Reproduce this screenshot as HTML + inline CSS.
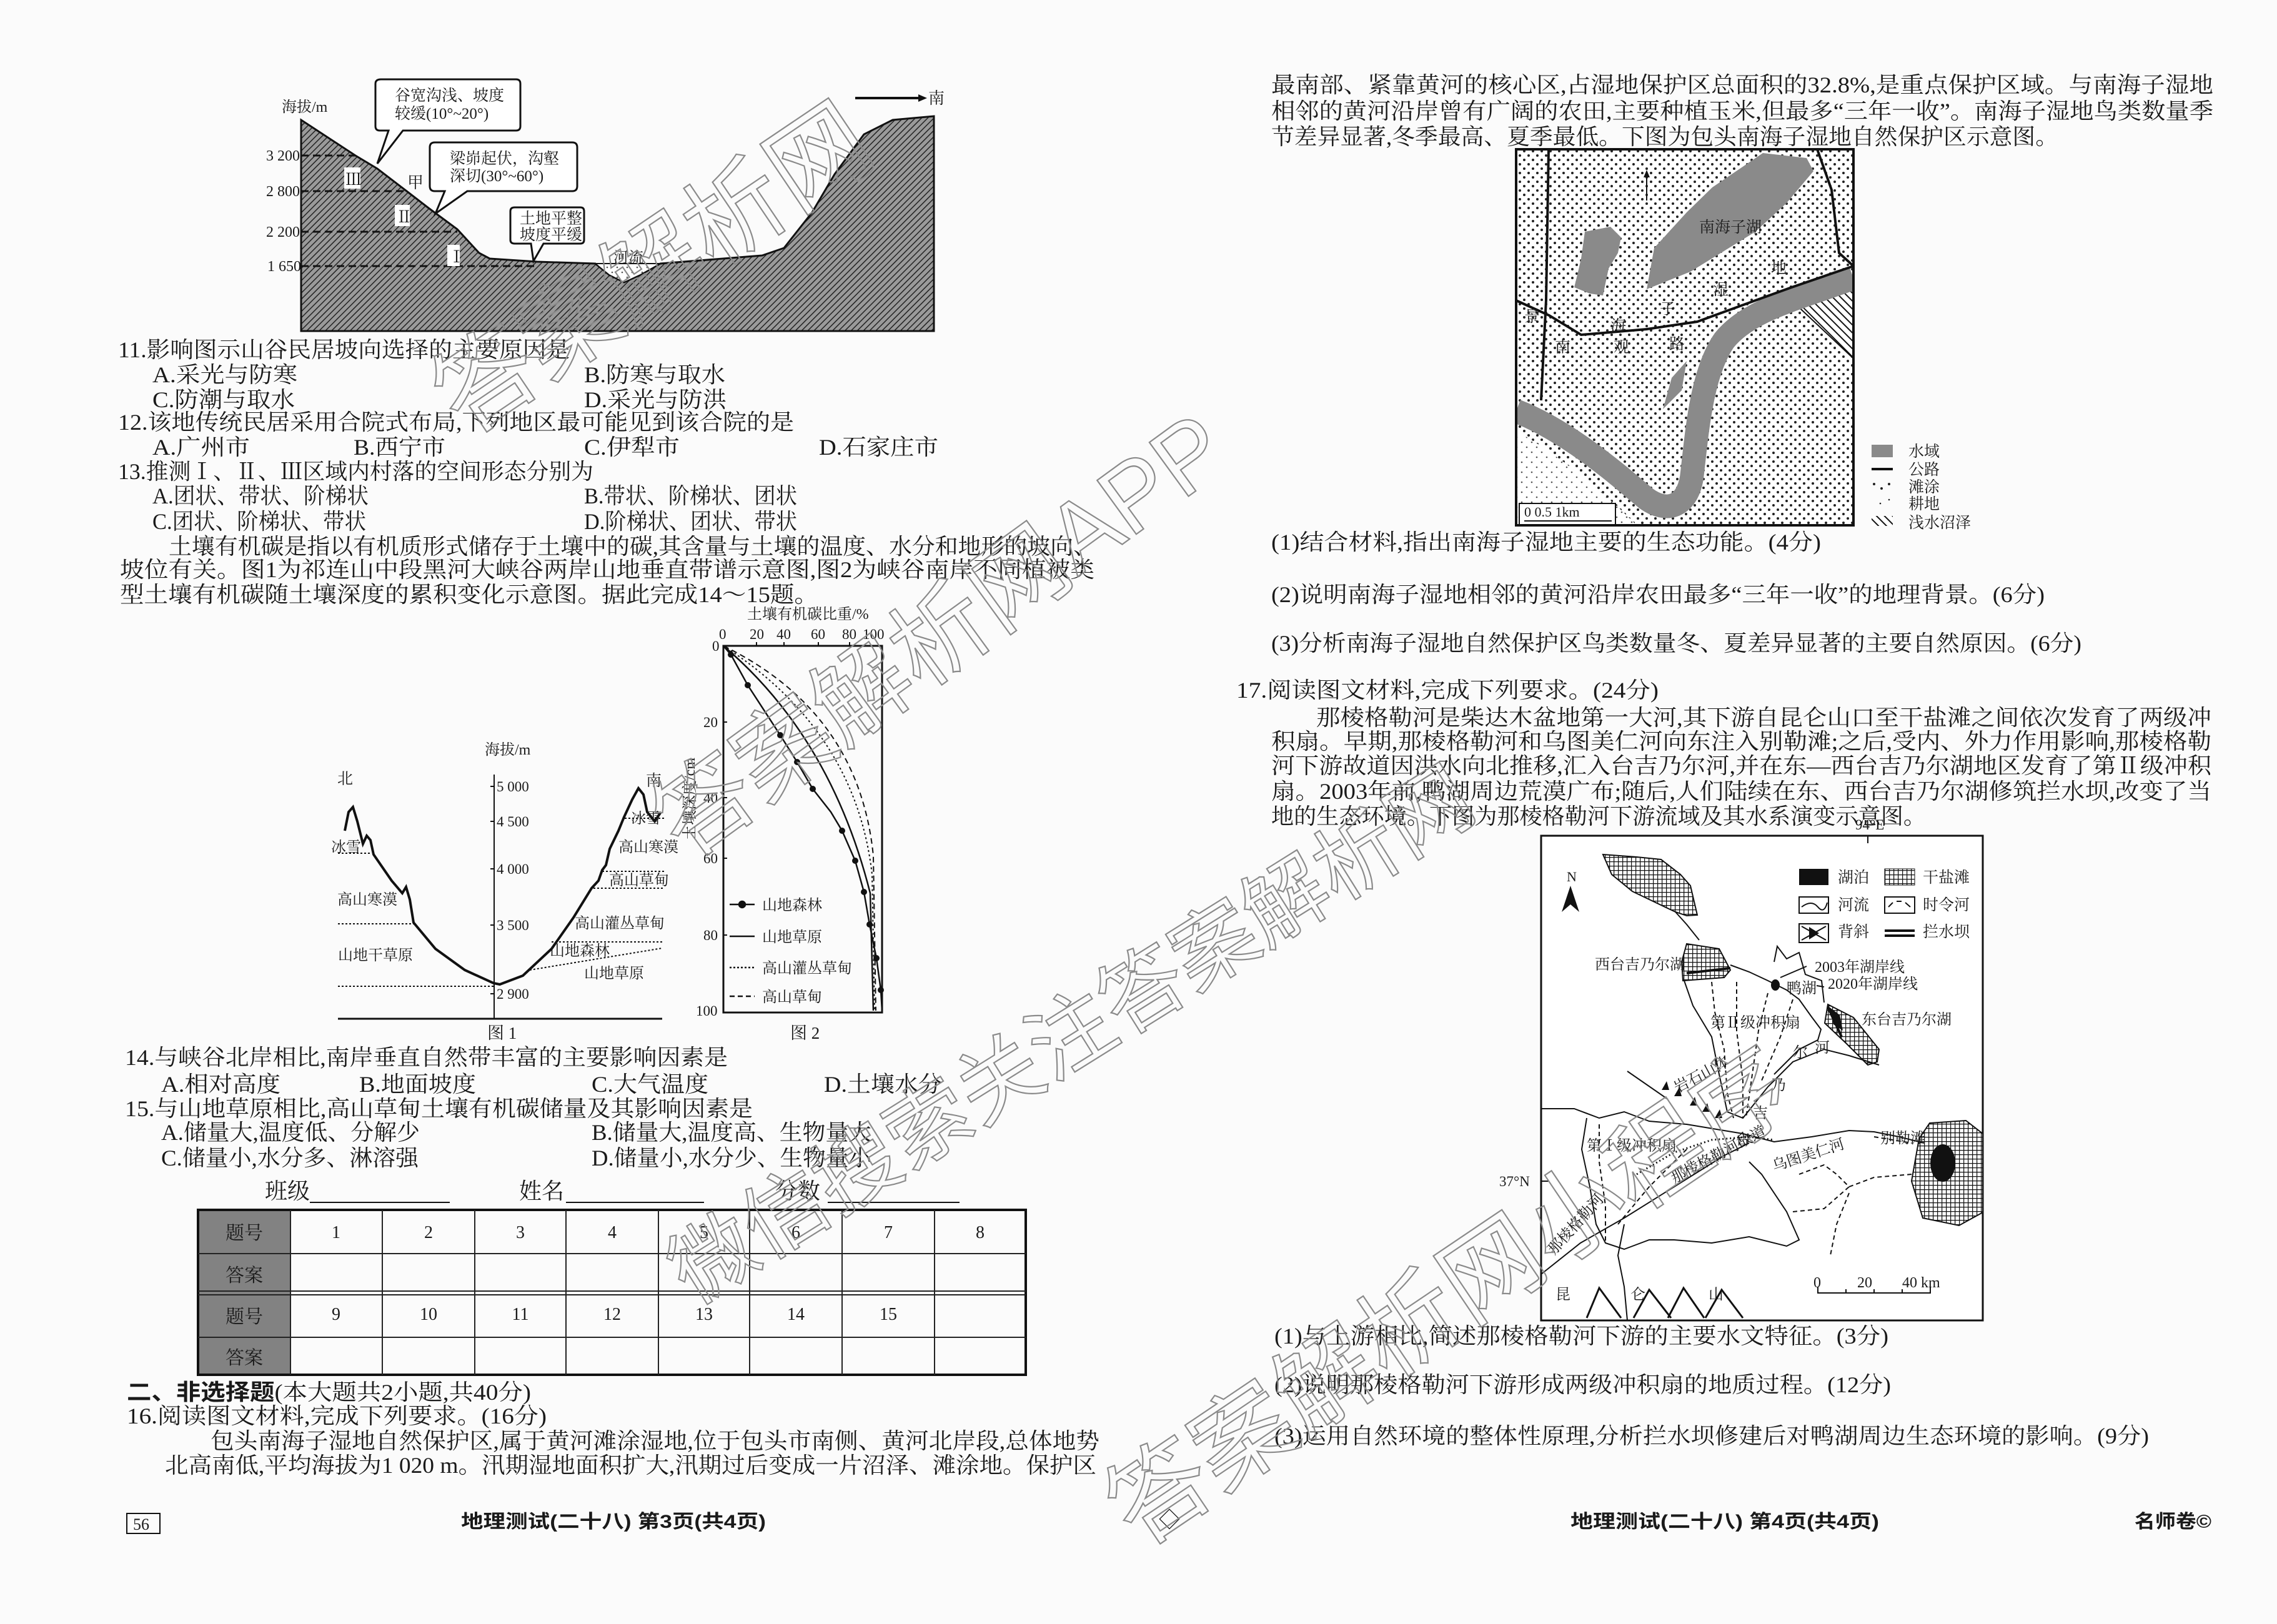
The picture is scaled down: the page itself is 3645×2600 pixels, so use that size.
<!DOCTYPE html>
<html><head><meta charset="utf-8"><style>
html,body{margin:0;padding:0;background:#fbfbfb;}
svg{display:block}
text{font-family:"Liberation Serif","Noto Serif CJK SC",serif;fill:#1a1a1a;}
.b{font-family:"Liberation Sans","Noto Sans CJK SC",sans-serif;font-weight:bold;}
.wm{font-family:"Liberation Sans","Noto Sans CJK SC",sans-serif;fill:none;stroke:#8a8a8a;stroke-width:2.2;}
</style></head><body>
<svg width="3645" height="2600" viewBox="0 0 3645 2600" xmlns="http://www.w3.org/2000/svg">
<defs>
<pattern id="hatch" width="7" height="7" patternUnits="userSpaceOnUse" patternTransform="rotate(45)"><rect width="7" height="7" fill="#9a9a9a"/><line x1="0" y1="0" x2="0" y2="7" stroke="#222" stroke-width="3"/></pattern>
<pattern id="dots" width="14" height="14" patternUnits="userSpaceOnUse"><rect width="14" height="14" fill="#fff"/><circle cx="4" cy="4" r="2" fill="#222"/><circle cx="11" cy="11" r="2" fill="#222"/></pattern>
<pattern id="fdots" width="16" height="16" patternUnits="userSpaceOnUse"><rect width="16" height="16" fill="#fff"/><circle cx="4" cy="4" r="1.3" fill="#555"/><circle cx="12" cy="12" r="1.3" fill="#555"/></pattern>
<pattern id="grid" width="7" height="7" patternUnits="userSpaceOnUse"><rect width="7" height="7" fill="#fff"/><path d="M0 0H7M0 0V7" stroke="#111" stroke-width="2.5"/></pattern>
<pattern id="diag" width="9" height="9" patternUnits="userSpaceOnUse" patternTransform="rotate(-45)"><rect width="9" height="9" fill="#fff"/><line x1="0" y1="0" x2="0" y2="9" stroke="#111" stroke-width="4"/></pattern>
<clipPath id="wclip"><rect x="2427" y="239" width="540" height="602"/></clipPath>
</defs>

<!-- ============ LEFT PAGE ============ -->
<text x="451" y="179" font-size="24">海拔/m</text>
<path d="M482,192 L511,211 L569,249 L604,270 L651,306 L686,333 L732,367 L767,405 L784,414 L860,419 L953,422 L975,440 L999,452 L1025,440 L1057,422 L1220,409 L1255,397 L1300,340 L1336,279 L1383,215 L1429,192 L1495,186 L1495,530 L482,530 Z" fill="url(#hatch)" stroke="#111" stroke-width="3"/>
<path d="M953,422 L975,440 L999,452 L1025,440 L1057,422 Z" fill="url(#fdots)" stroke="#111" stroke-width="2"/>
<g stroke="#111" stroke-width="3" stroke-dasharray="12,7">
<line x1="482" y1="249" x2="569" y2="249"/><line x1="482" y1="306" x2="651" y2="306"/><line x1="482" y1="371" x2="732" y2="371"/><line x1="482" y1="426" x2="860" y2="426"/></g>
<g font-size="24"><text x="426" y="257">3 200</text><text x="426" y="314">2 800</text><text x="426" y="379">2 200</text><text x="428" y="434">1 650</text></g>
<rect x="551" y="268" width="26" height="34" fill="#fff"/><text x="553" y="296" font-size="26">Ⅲ</text>
<rect x="632" y="328" width="24" height="34" fill="#fff"/><text x="634" y="356" font-size="26">Ⅱ</text>
<rect x="716" y="392" width="20" height="34" fill="#fff"/><text x="718" y="420" font-size="26">Ⅰ</text>
<text x="652" y="301" font-size="26">甲</text>
<text x="982" y="420" font-size="24">河流</text>
<path d="M610,127 H826 Q833,127 833,134 V202 Q833,209 826,209 H645 L604,262 L622,209 H608 Q601,209 601,202 V134 Q601,127 610,127 Z" fill="#fff" stroke="#111" stroke-width="3"/>
<text x="632" y="161" font-size="25">谷宽沟浅、坡度</text><text x="632" y="190" font-size="25">较缓(10°~20°)</text>
<path d="M696,228 H916 Q924,228 924,236 V298 Q924,306 916,306 H748 L697,342 L712,306 H696 Q688,306 688,298 V236 Q688,228 696,228 Z" fill="#fff" stroke="#111" stroke-width="3"/>
<text x="720" y="262" font-size="25">梁峁起伏，沟壑</text><text x="720" y="290" font-size="25">深切(30°~60°)</text>
<path d="M824,332 H929 Q935,332 935,338 V384 Q935,390 929,390 H870 L854,418 L850,390 H824 Q817,390 817,384 V338 Q817,332 824,332 Z" fill="#fff" stroke="#111" stroke-width="3"/>
<text x="832" y="358" font-size="25">土地平整</text><text x="832" y="384" font-size="25">坡度平缓</text>
<line x1="1369" y1="157" x2="1470" y2="157" stroke="#111" stroke-width="4"/><path d="M1470,151 L1484,157 L1470,163 Z" fill="#111"/>
<text x="1486" y="166" font-size="26">南</text>

<g font-size="36">
<text x="189" y="572" textLength="723" lengthAdjust="spacingAndGlyphs">11.影响图示山谷民居坡向选择的主要原因是</text>
<text x="244" y="612" textLength="232" lengthAdjust="spacingAndGlyphs">A.采光与防寒</text>
<text x="935" y="612" textLength="226" lengthAdjust="spacingAndGlyphs">B.防寒与取水</text>
<text x="244" y="652" textLength="228" lengthAdjust="spacingAndGlyphs">C.防潮与取水</text>
<text x="935" y="652" textLength="228" lengthAdjust="spacingAndGlyphs">D.采光与防洪</text>
<text x="189" y="688" textLength="1082" lengthAdjust="spacingAndGlyphs">12.该地传统民居采用合院式布局,下列地区最可能见到该合院的是</text>
<text x="244" y="728" textLength="156" lengthAdjust="spacingAndGlyphs">A.广州市</text>
<text x="566" y="728" textLength="147" lengthAdjust="spacingAndGlyphs">B.西宁市</text>
<text x="935" y="728" textLength="153" lengthAdjust="spacingAndGlyphs">C.伊犁市</text>
<text x="1311" y="728" textLength="191" lengthAdjust="spacingAndGlyphs">D.石家庄市</text>
<text x="189" y="767" textLength="761" lengthAdjust="spacingAndGlyphs">13.推测Ⅰ、Ⅱ、Ⅲ区域内村落的空间形态分别为</text>
<text x="244" y="806" textLength="346" lengthAdjust="spacingAndGlyphs">A.团状、带状、阶梯状</text>
<text x="935" y="806" textLength="341" lengthAdjust="spacingAndGlyphs">B.带状、阶梯状、团状</text>
<text x="244" y="847" textLength="342" lengthAdjust="spacingAndGlyphs">C.团状、阶梯状、带状</text>
<text x="935" y="847" textLength="341" lengthAdjust="spacingAndGlyphs">D.阶梯状、团状、带状</text>
<text x="270" y="887" textLength="1485" lengthAdjust="spacingAndGlyphs">土壤有机碳是指以有机质形式储存于土壤中的碳,其含量与土壤的温度、水分和地形的坡向、</text>
<text x="192" y="924" textLength="1560" lengthAdjust="spacingAndGlyphs">坡位有关。图1为祁连山中段黑河大峡谷两岸山地垂直带谱示意图,图2为峡谷南岸不同植被类</text>
<text x="192" y="964" textLength="1118" lengthAdjust="spacingAndGlyphs">型土壤有机碳随土壤深度的累积变化示意图。据此完成14～15题。</text>
</g>

<!-- Fig 2 -->
<text x="1196" y="991" font-size="24">土壤有机碳比重/%</text>
<g font-size="23"><text x="1151" y="1023">0</text><text x="1200" y="1023">20</text><text x="1243" y="1023">40</text><text x="1298" y="1023">60</text><text x="1348" y="1023">80</text><text x="1381" y="1023">100</text>
<text x="1140" y="1042">0</text><text x="1126" y="1164">20</text><text x="1126" y="1285">40</text><text x="1126" y="1382">60</text><text x="1126" y="1505">80</text><text x="1114" y="1626">100</text></g>
<text x="1112" y="1345" font-size="24" transform="rotate(-90 1112 1345)">土壤深度/cm</text>
<rect x="1158" y="1034" width="254" height="587" fill="none" stroke="#111" stroke-width="3"/>
<g stroke="#111" stroke-width="2"><line x1="1211" y1="1034" x2="1211" y2="1028"/><line x1="1255" y1="1034" x2="1255" y2="1028"/><line x1="1310" y1="1034" x2="1310" y2="1028"/><line x1="1360" y1="1034" x2="1360" y2="1028"/><line x1="1158" y1="1156" x2="1164" y2="1156"/><line x1="1158" y1="1277" x2="1164" y2="1277"/><line x1="1158" y1="1374" x2="1164" y2="1374"/><line x1="1158" y1="1497" x2="1164" y2="1497"/></g>
<path d="M1158,1034 Q1370,1170 1396,1400 L1400,1618" fill="none" stroke="#111" stroke-width="2" stroke-dasharray="3,4"/>
<path d="M1158,1034 Q1375,1140 1398,1370 L1402,1618" fill="none" stroke="#111" stroke-width="2" stroke-dasharray="9,6"/>
<path d="M1158,1034 Q1330,1180 1393,1430 L1398,1618" fill="none" stroke="#111" stroke-width="2.5"/>
<polyline points="1158,1034 1170,1048 1197,1097 1249,1177 1276,1220 1301,1263 1330,1300 1348,1330 1369,1378 1383,1428 1392,1480 1403,1534 1410,1585 1412,1618" fill="none" stroke="#111" stroke-width="2.5"/>
<g fill="#111"><circle cx="1170" cy="1048" r="5"/><circle cx="1197" cy="1097" r="5"/><circle cx="1249" cy="1177" r="5"/><circle cx="1276" cy="1220" r="5"/><circle cx="1301" cy="1263" r="5"/><circle cx="1348" cy="1330" r="5"/><circle cx="1369" cy="1378" r="5"/><circle cx="1383" cy="1428" r="5"/><circle cx="1392" cy="1480" r="5"/><circle cx="1403" cy="1534" r="5"/><circle cx="1410" cy="1585" r="5"/></g>
<g stroke="#111" stroke-width="2.5"><line x1="1168" y1="1448" x2="1208" y2="1448"/><circle cx="1188" cy="1448" r="5" fill="#111"/><line x1="1168" y1="1499" x2="1208" y2="1499"/><line x1="1168" y1="1549" x2="1208" y2="1549" stroke-dasharray="3,3"/><line x1="1168" y1="1595" x2="1208" y2="1595" stroke-dasharray="8,5"/></g>
<g font-size="24"><text x="1220" y="1457">山地森林</text><text x="1220" y="1508">山地草原</text><text x="1220" y="1558">高山灌丛草甸</text><text x="1220" y="1604">高山草甸</text></g>
<text x="1265" y="1663" font-size="27">图 2</text>

<!-- Fig 1 -->
<text x="776" y="1208" font-size="24">海拔/m</text>
<text x="540" y="1255" font-size="25">北</text><text x="1034" y="1258" font-size="25">南</text>
<line x1="791" y1="1240" x2="791" y2="1631" stroke="#111" stroke-width="2"/>
<g font-size="23"><text x="795" y="1267">5 000</text><text x="795" y="1323">4 500</text><text x="795" y="1399">4 000</text><text x="795" y="1489">3 500</text><text x="795" y="1599">2 900</text></g>
<g stroke="#111" stroke-width="2"><line x1="785" y1="1259" x2="791" y2="1259"/><line x1="785" y1="1315" x2="791" y2="1315"/><line x1="785" y1="1391" x2="791" y2="1391"/><line x1="785" y1="1481" x2="791" y2="1481"/><line x1="785" y1="1591" x2="791" y2="1591"/></g>
<line x1="541" y1="1631" x2="1060" y2="1631" stroke="#111" stroke-width="3"/>
<path d="M552,1330 L558,1300 L565,1292 L572,1315 L581,1351 L587,1338 L593,1345 L598,1368 L627,1410 L644,1430 L650,1420 L656,1440 L662,1477 L697,1519 L744,1553 L790,1574 L800,1576 L837,1562 L883,1519 L918,1469 L947,1422 L958,1410 L964,1393 L970,1385 L976,1359 L990,1330 L999,1308 L1012,1280 L1022,1262 L1030,1272 L1036,1300 L1048,1315 L1058,1300" fill="none" stroke="#111" stroke-width="4"/>
<g stroke="#111" stroke-width="2" stroke-dasharray="3,3">
<line x1="541" y1="1366" x2="593" y2="1366"/><line x1="541" y1="1479" x2="662" y2="1479"/><line x1="541" y1="1579" x2="790" y2="1579"/>
<line x1="964" y1="1395" x2="1063" y2="1395"/><line x1="950" y1="1422" x2="1063" y2="1422"/><line x1="883" y1="1508" x2="1060" y2="1508"/><line x1="848" y1="1553" x2="1060" y2="1518"/>
<line x1="1000" y1="1310" x2="1063" y2="1310"/></g>
<g font-size="24"><text x="530" y="1364">冰雪</text><text x="540" y="1448">高山寒漠</text><text x="541" y="1537">山地干草原</text>
<text x="1010" y="1318">冰雪</text><text x="990" y="1364">高山寒漠</text><text x="975" y="1417">高山草甸</text><text x="920" y="1486">高山灌丛草甸</text><text x="880" y="1530">山地森林</text><text x="935" y="1566">山地草原</text></g>
<text x="780" y="1663" font-size="27">图 1</text>

<g font-size="36">
<text x="200" y="1705" textLength="965" lengthAdjust="spacingAndGlyphs">14.与峡谷北岸相比,南岸垂直自然带丰富的主要影响因素是</text>
<text x="258" y="1748" textLength="191" lengthAdjust="spacingAndGlyphs">A.相对高度</text>
<text x="575" y="1748" textLength="187" lengthAdjust="spacingAndGlyphs">B.地面坡度</text>
<text x="947" y="1748" textLength="187" lengthAdjust="spacingAndGlyphs">C.大气温度</text>
<text x="1319" y="1748" textLength="189" lengthAdjust="spacingAndGlyphs">D.土壤水分</text>
<text x="200" y="1787" textLength="1005" lengthAdjust="spacingAndGlyphs">15.与山地草原相比,高山草甸土壤有机碳储量及其影响因素是</text>
<text x="258" y="1825" textLength="414" lengthAdjust="spacingAndGlyphs">A.储量大,温度低、分解少</text>
<text x="947" y="1825" textLength="448" lengthAdjust="spacingAndGlyphs">B.储量大,温度高、生物量大</text>
<text x="258" y="1866" textLength="412" lengthAdjust="spacingAndGlyphs">C.储量小,水分多、淋溶强</text>
<text x="947" y="1866" textLength="448" lengthAdjust="spacingAndGlyphs">D.储量小,水分少、生物量小</text>
<text x="424" y="1919">班级</text><text x="831" y="1919">姓名</text><text x="1241" y="1919">分数</text>
</g>
<g stroke="#111" stroke-width="2"><line x1="496" y1="1925" x2="720" y2="1925"/><line x1="906" y1="1925" x2="1127" y2="1925"/><line x1="1325" y1="1925" x2="1536" y2="1925"/></g>

<!-- table -->
<rect x="317" y="1937" width="148" height="264" fill="#828282"/>
<rect x="317" y="1937" width="1325" height="264" fill="none" stroke="#111" stroke-width="4"/>
<g stroke="#222" stroke-width="2">
<line x1="317" y1="2007" x2="1642" y2="2007"/><line x1="317" y1="2067" x2="1642" y2="2067"/><line x1="317" y1="2073" x2="1642" y2="2073"/><line x1="317" y1="2141" x2="1642" y2="2141"/>
<line x1="465" y1="1937" x2="465" y2="2201"/><line x1="612" y1="1937" x2="612" y2="2201"/><line x1="760" y1="1937" x2="760" y2="2201"/><line x1="906" y1="1937" x2="906" y2="2201"/><line x1="1054" y1="1937" x2="1054" y2="2201"/><line x1="1200" y1="1937" x2="1200" y2="2201"/><line x1="1348" y1="1937" x2="1348" y2="2201"/><line x1="1496" y1="1937" x2="1496" y2="2201"/></g>
<g font-size="30"><text x="361" y="1984">题号</text><text x="361" y="2052">答案</text><text x="361" y="2118">题号</text><text x="361" y="2184">答案</text></g>
<g font-size="28" text-anchor="middle"><text x="538" y="1982">1</text><text x="686" y="1982">2</text><text x="833" y="1982">3</text><text x="980" y="1982">4</text><text x="1127" y="1982">5</text><text x="1274" y="1982">6</text><text x="1422" y="1982">7</text><text x="1569" y="1982">8</text>
<text x="538" y="2113">9</text><text x="686" y="2113">10</text><text x="833" y="2113">11</text><text x="980" y="2113">12</text><text x="1127" y="2113">13</text><text x="1274" y="2113">14</text><text x="1422" y="2113">15</text></g>

<g font-size="36">
<text x="203" y="2241" textLength="647" lengthAdjust="spacingAndGlyphs"><tspan class="b">二、非选择题</tspan>(本大题共2小题,共40分)</text>
<text x="203" y="2279" textLength="672" lengthAdjust="spacingAndGlyphs">16.阅读图文材料,完成下列要求。(16分)</text>
<text x="337" y="2319" textLength="1423" lengthAdjust="spacingAndGlyphs">包头南海子湿地自然保护区,属于黄河滩涂湿地,位于包头市南侧、黄河北岸段,总体地势</text>
<text x="264" y="2358" textLength="1491" lengthAdjust="spacingAndGlyphs">北高南低,平均海拔为1 020 m。汛期湿地面积扩大,汛期过后变成一片沼泽、滩涂地。保护区</text>
</g>
<rect x="203" y="2423" width="53" height="32" fill="none" stroke="#111" stroke-width="2"/>
<text x="213" y="2449" font-size="26">56</text>
<text class="b" x="738" y="2446" font-size="30" textLength="488" lengthAdjust="spacingAndGlyphs">地理测试(二十八)  第3页(共4页)</text>

<!-- ============ RIGHT PAGE ============ -->
<g font-size="36">
<text x="2035" y="148" textLength="1508" lengthAdjust="spacingAndGlyphs">最南部、紧靠黄河的核心区,占湿地保护区总面积的32.8%,是重点保护区域。与南海子湿地</text>
<text x="2035" y="190" textLength="1508" lengthAdjust="spacingAndGlyphs">相邻的黄河沿岸曾有广阔的农田,主要种植玉米,但最多“三年一收”。南海子湿地鸟类数量季</text>
<text x="2035" y="231" textLength="1260" lengthAdjust="spacingAndGlyphs">节差异显著,冬季最高、夏季最低。下图为包头南海子湿地自然保护区示意图。</text>
</g>
<!-- wetland map -->
<rect x="2427" y="239" width="540" height="602" fill="url(#dots)"/>
<g clip-path="url(#wclip)">
<path d="M2427,690 C2500,730 2580,800 2620,841 L2427,841 Z" fill="url(#fdots)"/>
<path d="M2822,245 L2892,253 L2903,274 L2860,325 L2810,371 L2706,435 L2636,463 L2648,397 L2700,340 L2741,300 Z" fill="#8a8a8a"/>
<path d="M2537,371 L2578,363 L2595,380 L2590,405 L2575,430 L2566,473 L2545,470 L2520,460 L2525,440 L2531,414 Z" fill="#8a8a8a"/>
<path d="M2868,481 L2950,443 L2967,447 L2967,574 Z" fill="url(#diag)" stroke="#111" stroke-width="2"/>
<path d="M2427,658 C2510,690 2590,760 2635,798 C2668,822 2700,812 2708,765 C2716,700 2722,600 2760,545 C2800,495 2880,478 2967,445" fill="none" stroke="#8a8a8a" stroke-width="38"/>
<path d="M2662,655 L2676,605 L2700,578 L2692,625 Z" fill="#8a8a8a"/>
</g>
<rect x="2427" y="239" width="540" height="602" fill="none" stroke="#111" stroke-width="4"/>
<g fill="none" stroke="#111" stroke-width="4">
<path d="M2479,239 L2475,480 L2467,641"/>
<path d="M2427,481 L2480,505 L2531,536 L2636,527 L2717,515 L2810,481 L2868,460 L2967,426"/>
<path d="M2909,239 L2932,304 L2944,405 L2967,426"/></g>
<line x1="2636" y1="321" x2="2636" y2="282" stroke="#111" stroke-width="2"/><path d="M2631,284 L2636,272 L2641,284 Z" fill="#111"/>
<g font-size="25"><text x="2720" y="372">南海子湖</text><text x="2835" y="437">地</text><text x="2742" y="472">湿</text><text x="2657" y="503">子</text><text x="2578" y="530">海</text><text x="2440" y="515">景</text><text x="2489" y="564">南</text><text x="2583" y="564">观</text><text x="2672" y="559">路</text></g>
<rect x="2432" y="806" width="154" height="34" fill="#fff" stroke="#111" stroke-width="2"/>
<text x="2440" y="827" font-size="22">0   0.5  1km</text>
<path d="M2440,834 H2580" stroke="#111" stroke-width="2"/>
<rect x="2996" y="712" width="34" height="20" fill="#8a8a8a"/>
<line x1="2996" y1="751" x2="3030" y2="751" stroke="#111" stroke-width="4"/>
<g fill="#222"><circle cx="3000" cy="775" r="2"/><circle cx="3012" cy="782" r="2"/><circle cx="3024" cy="775" r="2"/><circle cx="3024" cy="800" r="1.3"/><circle cx="3010" cy="806" r="1.3"/></g>
<rect x="2996" y="826" width="34" height="16" fill="url(#diag)"/>
<g font-size="25"><text x="3055" y="731">水域</text><text x="3055" y="760">公路</text><text x="3055" y="788">滩涂</text><text x="3055" y="815">耕地</text><text x="3055" y="845">浅水沼泽</text></g>

<g font-size="36">
<text x="2035" y="880" textLength="880" lengthAdjust="spacingAndGlyphs">(1)结合材料,指出南海子湿地主要的生态功能。(4分)</text>
<text x="2035" y="964" textLength="1238" lengthAdjust="spacingAndGlyphs">(2)说明南海子湿地相邻的黄河沿岸农田最多“三年一收”的地理背景。(6分)</text>
<text x="2035" y="1042" textLength="1297" lengthAdjust="spacingAndGlyphs">(3)分析南海子湿地自然保护区鸟类数量冬、夏差异显著的主要自然原因。(6分)</text>
<text x="1979" y="1117" textLength="676" lengthAdjust="spacingAndGlyphs">17.阅读图文材料,完成下列要求。(24分)</text>
<text x="2107" y="1161" textLength="1433" lengthAdjust="spacingAndGlyphs">那棱格勒河是柴达木盆地第一大河,其下游自昆仑山口至干盐滩之间依次发育了两级冲</text>
<text x="2035" y="1199" textLength="1505" lengthAdjust="spacingAndGlyphs">积扇。早期,那棱格勒河和乌图美仁河向东注入别勒滩;之后,受内、外力作用影响,那棱格勒</text>
<text x="2035" y="1238" textLength="1505" lengthAdjust="spacingAndGlyphs">河下游故道因洪水向北推移,汇入台吉乃尔河,并在东—西台吉乃尔湖地区发育了第Ⅱ级冲积</text>
<text x="2035" y="1279" textLength="1505" lengthAdjust="spacingAndGlyphs">扇。2003年前,鸭湖周边荒漠广布;随后,人们陆续在东、西台吉乃尔湖修筑拦水坝,改变了当</text>
<text x="2035" y="1319" textLength="1048" lengthAdjust="spacingAndGlyphs">地的生态环境。下图为那棱格勒河下游流域及其水系演变示意图。</text>
</g>

<!-- river map -->
<text x="2970" y="1328" font-size="23">94°E</text>
<rect x="2467" y="1338" width="707" height="776" fill="#fff" stroke="#111" stroke-width="3"/>
<line x1="2990" y1="1338" x2="2990" y2="1350" stroke="#111" stroke-width="2"/>
<line x1="2467" y1="1891" x2="2479" y2="1891" stroke="#111" stroke-width="2"/>
<text x="2400" y="1899" font-size="23">37°N</text>
<rect x="2880" y="1391" width="47" height="26" fill="#111"/><rect x="3017" y="1391" width="48" height="26" fill="url(#grid)" stroke="#111"/>
<rect x="2880" y="1436" width="47" height="26" fill="#fff" stroke="#111" stroke-width="2"/><path d="M2884,1452 Q2900,1440 2910,1452 T2925,1445" fill="none" stroke="#111" stroke-width="2"/>
<rect x="3017" y="1436" width="48" height="26" fill="#fff" stroke="#111" stroke-width="2"/><path d="M3023,1452 L3030,1445 M3036,1443 H3044 M3050,1445 L3058,1452" stroke="#111" stroke-width="2"/>
<rect x="2880" y="1479" width="47" height="30" fill="#fff" stroke="#111" stroke-width="2"/><path d="M2884,1483 L2923,1505 M2884,1505 L2923,1483" stroke="#111" stroke-width="2"/><path d="M2896,1484 L2912,1494 L2896,1504 Z" fill="#111"/>
<rect x="3017" y="1488" width="48" height="4" fill="#111"/><rect x="3017" y="1496" width="48" height="4" fill="#111"/>
<g font-size="25"><text x="2942" y="1413">湖泊</text><text x="3078" y="1413">干盐滩</text><text x="2942" y="1457">河流</text><text x="3078" y="1457">时令河</text><text x="2942" y="1500">背斜</text><text x="3078" y="1500">拦水坝</text></g>
<text x="2508" y="1411" font-size="22">N</text><path d="M2514,1418 L2500,1460 L2514,1448 L2528,1460 Z" fill="#111"/>
<path d="M2566,1368 L2620,1372 L2659,1376 L2690,1400 L2706,1418 L2717,1465 L2700,1466 L2682,1460 L2640,1440 L2613,1427 L2580,1400 Z" fill="url(#grid)" stroke="#111" stroke-width="2"/>
<path d="M2700,1511 L2752,1519 L2770,1553 L2760,1565 L2694,1570 L2692,1540 Z" fill="url(#grid)" stroke="#111" stroke-width="2"/>
<path d="M2926,1608 L2967,1629 L3008,1680 L3005,1700 L2990,1705 L2956,1671 L2921,1638 Z" fill="url(#grid)" stroke="#111" stroke-width="2"/>
<path d="M2928,1612 L2945,1625 L2950,1650 L2935,1640 Z" fill="#111"/>
<path d="M3089,1798 L3147,1794 L3174,1815 L3174,1941 L3136,1962 L3078,1950 L3060,1891 L3072,1823 Z" fill="url(#grid)" stroke="#111" stroke-width="2"/>
<ellipse cx="3110" cy="1862" rx="20" ry="30" fill="#111"/>
<g fill="none" stroke="#111" stroke-width="2">
<path d="M2682,1460 L2700,1480 L2720,1505"/>
<path d="M2696,1570 L2710,1610 L2740,1660 L2752,1720 L2765,1780 L2790,1790 L2830,1740 L2870,1700 L2920,1680 L2960,1690 L3008,1705"/>
<path d="M2770,1545 L2800,1556 L2830,1570 L2860,1585 L2880,1600 L2900,1628 L2915,1648 L2910,1665 L2880,1680 L2840,1720"/>
<path d="M2840,1540 L2845,1515 L2860,1535 L2880,1525 L2890,1560 L2916,1570 L2920,1605"/>
<path d="M2467,1775 L2520,1775 L2560,1790 L2600,1780 L2640,1795 L2700,1800 L2760,1810 L2790,1815 L2840,1828 L2900,1820 L2960,1810 L3000,1812 L3040,1820 L3080,1830"/>
<path d="M2540,1790 L2532,1840 L2545,1900 L2555,1960 L2570,1990 L2600,2000 L2640,1985 L2680,1985 L2740,1990 L2800,1980 L2860,1995 L2880,1985 L2860,1940 L2820,1880 L2800,1860"/>
<path d="M2467,2040 L2530,1990 L2600,1950 L2680,1900 L2760,1850 L2800,1830"/>
<path d="M2600,1960 L2590,2010 L2600,2060 L2605,2114"/></g>
<g fill="none" stroke="#111" stroke-width="2" stroke-dasharray="7,5">
<path d="M2740,1572 L2745,1620 L2760,1680 L2765,1750 L2775,1790"/><path d="M2780,1572 L2780,1650 L2790,1730 L2790,1790"/>
<path d="M2830,1590 L2815,1650 L2805,1720 L2795,1790"/><path d="M2870,1600 L2850,1660 L2820,1730"/>
<path d="M2560,1800 L2560,1860 L2570,1930 L2570,1990"/><path d="M2700,1840 L2640,1900 L2590,1960"/>
<path d="M2880,1880 L2920,1865 L2940,1880 L2960,1900 L3000,1885 L3060,1880"/>
<path d="M2870,1940 L2920,1935 L2960,1900"/><path d="M2960,1910 L2940,1960 L2930,2010"/>
<path d="M3000,1820 L3060,1830"/></g>
<path d="M2620,1880 L2680,1845 L2740,1825 L2800,1820 L2840,1825" fill="none" stroke="#111" stroke-width="3" stroke-dasharray="2,4"/>
<line x1="2700" y1="1558" x2="2770" y2="1550" stroke="#111" stroke-width="4"/>
<line x1="2926" y1="1612" x2="2948" y2="1660" stroke="#111" stroke-width="4"/>
<ellipse cx="2842" cy="1577" rx="7" ry="9" fill="#111"/>
<path d="M2605,1715 L2670,1760" stroke="#111" stroke-width="2"/>
<g fill="#111"><path d="M2660,1745 l8,-14 l4,14 z"/><path d="M2680,1755 l8,-14 l4,14 z"/><path d="M2705,1770 l8,-14 l4,14 z"/><path d="M2725,1780 l8,-14 l4,14 z"/><path d="M2745,1790 l8,-14 l4,14 z"/></g>
<path d="M2892,1547 L2850,1565 M2908,1578 L2920,1580" stroke="#111" stroke-width="2"/>
<g font-size="24"><text x="2553" y="1552">西台吉乃尔湖</text><text x="2905" y="1556">2003年湖岸线</text><text x="2860" y="1590">鸭湖</text><text x="2926" y="1583">2020年湖岸线</text>
<text x="2738" y="1645">第Ⅱ级冲积扇</text><text x="2980" y="1640">东台吉乃尔湖</text><text x="2870" y="1693">尔</text><text x="2905" y="1685">河</text><text x="2835" y="1745">乃</text><text x="2806" y="1790">吉</text><text x="2778" y="1832">台</text>
<text x="2540" y="1842">第Ⅰ级冲积扇</text><text x="3010" y="1830">别勒滩</text><text x="2490" y="2080">昆</text><text x="2610" y="2080">仑</text><text x="2735" y="2080">山</text>
<text x="2685" y="1750" transform="rotate(-28 2685 1750)">岩石山体</text>
<text x="2680" y="1895" transform="rotate(-28 2680 1895)">那棱格勒河故道</text>
<text x="2840" y="1875" transform="rotate(-18 2840 1875)">乌图美仁河</text>
<text x="2488" y="2010" transform="rotate(-48 2488 2010)">那棱格勒河</text>
<text x="2903" y="2061">0</text><text x="2973" y="2061">20</text><text x="3045" y="2061">40 km</text></g>
<path d="M2910,2060 V2070 H3090 V2060 M2955,2070 V2064 M3000,2070 V2064 M3045,2070 V2064" fill="none" stroke="#111" stroke-width="2"/>
<g fill="none" stroke="#111" stroke-width="3"><path d="M2540,2110 L2560,2062 L2595,2110"/><path d="M2615,2110 L2640,2065 L2675,2110"/><path d="M2670,2110 L2695,2062 L2728,2110"/><path d="M2730,2110 L2756,2065 L2790,2110"/></g>

<g font-size="36">
<text x="2040" y="2151" textLength="983" lengthAdjust="spacingAndGlyphs">(1)与上游相比,简述那棱格勒河下游的主要水文特征。(3分)</text>
<text x="2040" y="2229" textLength="987" lengthAdjust="spacingAndGlyphs">(2)说明那棱格勒河下游形成两级冲积扇的地质过程。(12分)</text>
<text x="2040" y="2311" textLength="1400" lengthAdjust="spacingAndGlyphs">(3)运用自然环境的整体性原理,分析拦水坝修建后对鸭湖周边生态环境的影响。(9分)</text>
</g>
<text x="1855" y="2445" font-size="34">◇</text>
<text class="b" x="2514" y="2446" font-size="30" textLength="494" lengthAdjust="spacingAndGlyphs">地理测试(二十八)  第4页(共4页)</text>
<text class="b" x="3417" y="2446" font-size="30" textLength="123" lengthAdjust="spacingAndGlyphs">名师卷©</text>

<text class="wm" x="744" y="700" font-size="160" transform="rotate(-34 744 700)">答案解析网</text>
<text class="wm" x="1098" y="1379" font-size="155" transform="rotate(-36 1098 1379)">答案解析网APP</text>
<text class="wm" x="1110" y="2090" font-size="135" transform="rotate(-32 1110 2090)">微信搜索关注答案解析网</text>
<text class="wm" x="1822" y="2480" font-size="160" transform="rotate(-34 1822 2480)">答案解析网小程序</text>
</svg>
</body></html>
